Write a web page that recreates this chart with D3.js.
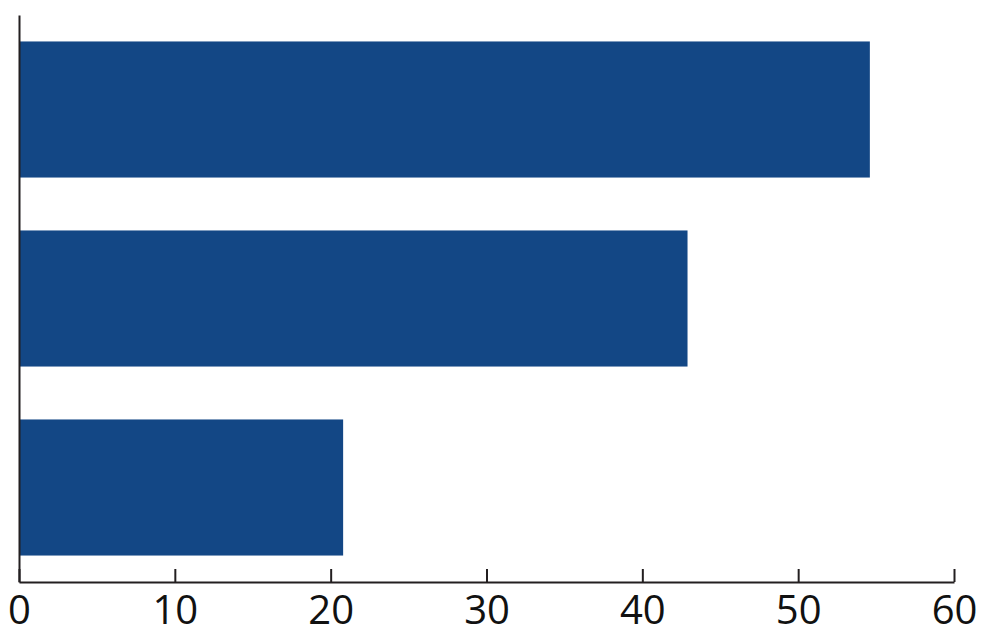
<!DOCTYPE html>
<html>
<head>
<meta charset="utf-8">
<script src="https://cdn.jsdelivr.net/npm/d3@7"></script>
<style>
  body { margin: 0; background: #fff; }
  .axis text { font-family: "Open Sans", sans-serif; font-size: 40px; fill: #111; }
  .axis path, .axis line { stroke: #231f20; stroke-width: 2px; }
</style>
</head>
<body>
<svg id="chart" width="997" height="641"></svg>
<script>
// bar categories (no labels shown on the original) and their values
const categories = ["A", "B", "C"];
const values = [54.6, 42.9, 20.8];
const xTicks = [0, 10, 20, 30, 40, 50, 60];

const data = categories.map((c, i) => ({ cat: c, value: values[i] }));

var svg = d3.select("#chart");
var margin = {top: 15, right: 43, bottom: 59, left: 19};
var innerWidth = +svg.attr("width") - margin.left - margin.right;
var innerHeight = +svg.attr("height") - margin.top - margin.bottom;

var g = svg.append("g")
    .attr("transform", "translate(" + margin.left + "," + margin.top + ")");

var x = d3.scaleLinear()
    .domain([0, 60])
    .range([0, innerWidth]);

var y = d3.scaleBand()
    .domain(categories)
    .range([0, innerHeight])
    .paddingInner(0.28)
    .paddingOuter(0.14);

g.selectAll(".bar")
    .data(data)
    .enter().append("rect")
    .attr("class", "bar")
    .attr("x", x(0))
    .attr("y", d => y(d.cat))
    .attr("width", d => x(d.value) - x(0))
    .attr("height", y.bandwidth())
    .attr("fill", "#134785");

// x axis, ticks pointing up into the plot
g.append("g")
    .attr("class", "axis axis--x")
    .attr("transform", "translate(0," + innerHeight + ")")
    .call(d3.axisBottom(x)
        .tickValues(xTicks)
        .tickSizeInner(-13)
        .tickSizeOuter(0)
        .tickPadding(14));

// left axis: just the line, no ticks
g.append("g")
    .attr("class", "axis axis--y")
    .call(d3.axisLeft(y).tickSize(0).tickFormat(""))
    .select(".domain");
</script>
</body>
</html>
